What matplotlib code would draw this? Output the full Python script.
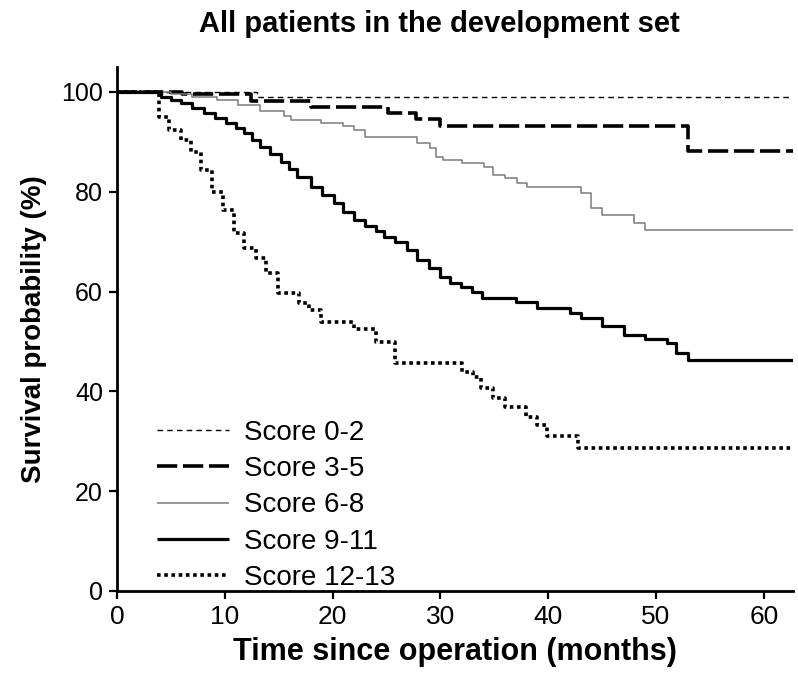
import matplotlib
matplotlib.use("Agg")
import matplotlib.pyplot as plt

plt.rcParams['font.family'] = ['Liberation Sans', 'DejaVu Sans']

# Kaplan-Meier curves (month, survival %)
t_02 = [0, 13.0]
s_02 = [100, 99.0]

t_35 = [0, 6.0, 12.4, 18.0, 25.1, 27.7, 30.0, 53.0]
s_35 = [100, 99.5, 98.2, 96.9, 95.7, 94.5, 93.1, 88.2]

t_68 = [0, 5.0, 7.0, 9.3, 11.2, 13.3, 15.5, 16.1, 18.9, 21.0, 22.0, 23.0,
        27.8, 29.0, 29.6, 30.2, 32.0, 34.0, 34.9, 36.0, 37.1, 38.0, 43.0,
        44.0, 45.0, 48.0, 49.0]
s_68 = [100, 99.5, 98.9, 98.4, 97.4, 96.1, 95.1, 94.4, 93.7, 93.1, 92.4, 91.0,
        89.7, 88.7, 87.0, 86.4, 85.8, 85.0, 83.4, 82.7, 81.8, 81.0, 79.8,
        76.7, 75.4, 73.8, 72.3]

t_911 = [0, 4.1, 5.0, 5.9, 7.0, 8.1, 9.1, 10.1, 11.0, 11.8, 12.5, 13.3, 14.2,
         15.2, 16.0, 16.7, 18.0, 19.0, 20.1, 21.0, 22.0, 23.0, 24.0, 24.8,
         25.8, 26.9, 27.8, 28.9, 30.0, 30.9, 31.9, 32.9, 33.9, 37.0, 39.0,
         42.0, 43.0, 45.0, 47.0, 49.0, 51.0, 51.9, 53.0]
s_911 = [100, 99.0, 98.4, 97.7, 96.7, 95.7, 94.7, 93.7, 92.7, 91.7, 90.3, 89.0,
         87.5, 86.0, 84.5, 83.0, 81.0, 79.4, 77.7, 76.0, 74.3, 73.2, 72.1,
         71.0, 70.0, 68.3, 66.3, 64.7, 63.0, 61.7, 61.0, 60.0, 58.7, 58.0,
         56.7, 55.6, 54.6, 53.1, 51.3, 50.4, 49.6, 47.6, 46.3]

t_1213 = [0, 3.9, 4.8, 5.9, 6.9, 7.8, 8.8, 9.8, 10.9, 11.8, 12.9, 13.8, 14.9,
          16.9, 17.8, 18.9, 22.0, 24.0, 25.8, 32.0, 33.0, 33.8, 34.9, 36.0,
          37.9, 39.0, 39.9, 42.8]
s_1213 = [100, 95.0, 92.4, 90.4, 88.0, 84.4, 80.0, 76.4, 71.7, 68.7, 66.7,
          63.7, 59.7, 57.7, 56.3, 53.8, 52.4, 49.8, 45.6, 43.9, 42.9, 40.6,
          38.6, 36.8, 34.9, 33.3, 31.1, 28.6]

labels = ['Score 0-2', 'Score 3-5', 'Score 6-8', 'Score 9-11', 'Score 12-13']
x_end = 62.7

fig = plt.figure(figsize=(7.98, 6.81), dpi=100)
ax = fig.add_axes([0.1466, 0.1322, 0.847, 0.7695])

styles = [
    dict(color='black', lw=1.0, ls=(0, (4, 3))),
    dict(color='black', lw=2.6, ls=(0, (5.6, 1.6))),
    dict(color='#7a7a7a', lw=1.1, ls='-'),
    dict(color='black', lw=2.3, ls='-'),
    dict(color='black', lw=2.6, ls=(0, (1, 1))),
]
curves = [(t_02, s_02), (t_35, s_35), (t_68, s_68), (t_911, s_911), (t_1213, s_1213)]

for (t, s), st, lab in zip(curves, styles, labels):
    ax.step(list(t) + [x_end], list(s) + [s[-1]], where='post',
            label=lab, solid_capstyle='butt', **st)

ax.set_xlim(0, x_end)
ax.set_ylim(0, 105)
ax.set_xticks([0, 10, 20, 30, 40, 50, 60])
ax.set_yticks([0, 20, 40, 60, 80, 100])

for side in ['top', 'right']:
    ax.spines[side].set_visible(False)
for side in ['left', 'bottom']:
    ax.spines[side].set_linewidth(2.0)

ax.tick_params(direction='out', length=6, width=1.6, labelsize=18, pad=4)
ax.tick_params(axis='x', labelsize=19)

ax.set_xlabel('Time since operation (months)', fontsize=22, fontweight='bold', labelpad=6)
ax.set_ylabel('Survival probability (%)', fontsize=20, fontweight='bold', labelpad=10)
fig.suptitle('All patients in the development set', fontsize=21, fontweight='bold',
             x=0.55, y=0.985)

ax.legend(loc='lower left', bbox_to_anchor=(0.059, 0.0), frameon=False,
          fontsize=20, handlelength=2.6, handletextpad=0.55, labelspacing=0.37,
          borderpad=0, borderaxespad=0)

fig.savefig('out.png', dpi=100)
